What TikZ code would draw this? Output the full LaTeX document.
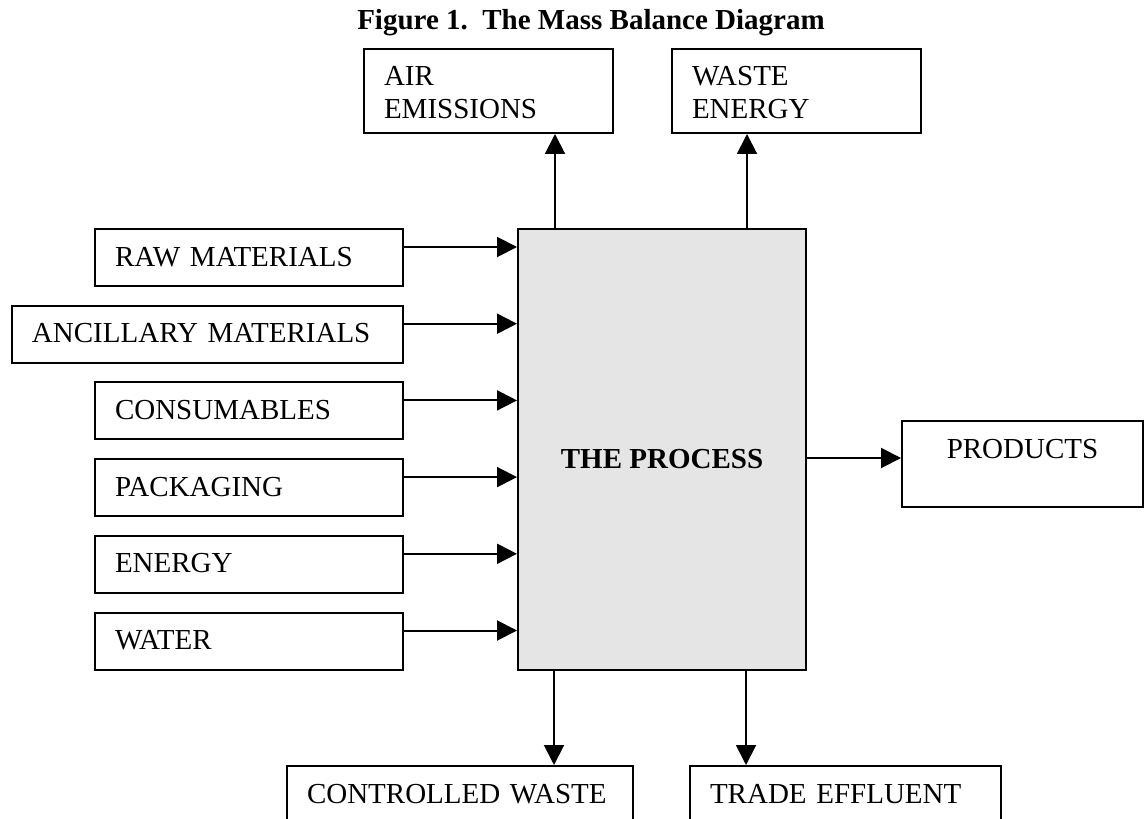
\documentclass[tikz,border=0pt]{standalone}
\usepackage{fontspec}
\setmainfont{Liberation Serif}
\usetikzlibrary{arrows.meta,calc}

\begin{document}
\begin{tikzpicture}
      [x = 0.5pt, y = -0.5pt,
      font = \fontsize{14.5pt}{16.5pt}\selectfont,
      heading/.style = {font = \fontsize{14.5pt}{16.5pt}\selectfont\bfseries},
      box/.style = {
         draw,
         line width = 1pt,
         anchor = north west,
         inner xsep = 10pt,
         inner ysep = 0pt,
         text height = 18.5pt,
         text depth = 10pt
      },
      inbox/.style = {
         box,
         text width = 134pt,
         align = left
      },
      flow/.style = {-{Triangle[length = 10pt, width = 10pt]}, line width = 1pt}]
      \useasboundingbox (0, 0) rectangle (1144, 818);

      \node[heading, anchor = base] (title) at (591, 30) {Figure 1.\ \ The Mass Balance Diagram};

      % the process
      \node[draw, line width = 1pt, fill = gray!20, anchor = north west,
         minimum width = 144pt, minimum height = 220.5pt, inner sep = 0pt,
         text height = 18.5pt, text depth = 0pt,
         heading] (proc) at (517, 228) {THE PROCESS};

      % inputs
      \node[inbox] (raw) at (94, 228) {RAW MATERIALS};
      \node[box, text width = 175.5pt, align = left] (anc) at (11, 304.7) {ANCILLARY MATERIALS};
      \node[inbox] (cons) at (94, 381.4) {CONSUMABLES};
      \node[inbox] (pack) at (94, 458.1) {PACKAGING};
      \node[inbox] (energy) at (94, 534.8) {ENERGY};
      \node[inbox] (water) at (94, 611.5) {WATER};

      \draw[flow] ([yshift = -9.5pt]raw.north east) -- ([yshift = -9.5pt]raw.north east -| proc.west);
      \draw[flow] ([yshift = -9.5pt]anc.north east) -- ([yshift = -9.5pt]anc.north east -| proc.west);
      \draw[flow] ([yshift = -9.5pt]cons.north east) -- ([yshift = -9.5pt]cons.north east -| proc.west);
      \draw[flow] ([yshift = -9.5pt]pack.north east) -- ([yshift = -9.5pt]pack.north east -| proc.west);
      \draw[flow] ([yshift = -9.5pt]energy.north east) -- ([yshift = -9.5pt]energy.north east -| proc.west);
      \draw[flow] ([yshift = -9.5pt]water.north east) -- ([yshift = -9.5pt]water.north east -| proc.west);

      % outputs above
      \node[box, text depth = 23.5pt] (air) at (363, 48) {\parbox[t]{104.5pt}{AIR\\EMISSIONS}};
      \node[box, text depth = 23.5pt] (waste) at (671, 48) {\parbox[t]{104.5pt}{WASTE\\ENERGY}};

      \coordinate (up1) at (555, 0);
      \coordinate (up2) at (747, 0);
      \draw[flow] (up1 |- proc.north) -- (up1 |- air.south);
      \draw[flow] (up2 |- proc.north) -- (up2 |- waste.south);

      % products
      \node[box, text width = 100.5pt, align = center, text depth = 24.5pt] (prod) at (901, 420) {PRODUCTS};
      \coordinate (out) at ([yshift = -19pt]prod.north west);
      \draw[flow] (proc.east |- out) -- (out);

      % outputs below
      \node[box, text width = 153pt, align = left] (cw) at (286, 765) {CONTROLLED WASTE};
      \node[box, text width = 135.5pt, align = left] (te) at (689, 765) {TRADE EFFLUENT};

      \coordinate (dn1) at (554, 0);
      \coordinate (dn2) at (746, 0);
      \draw[flow] (dn1 |- proc.south) -- (dn1 |- cw.north);
      \draw[flow] (dn2 |- proc.south) -- (dn2 |- te.north);

\end{tikzpicture}
\end{document}
